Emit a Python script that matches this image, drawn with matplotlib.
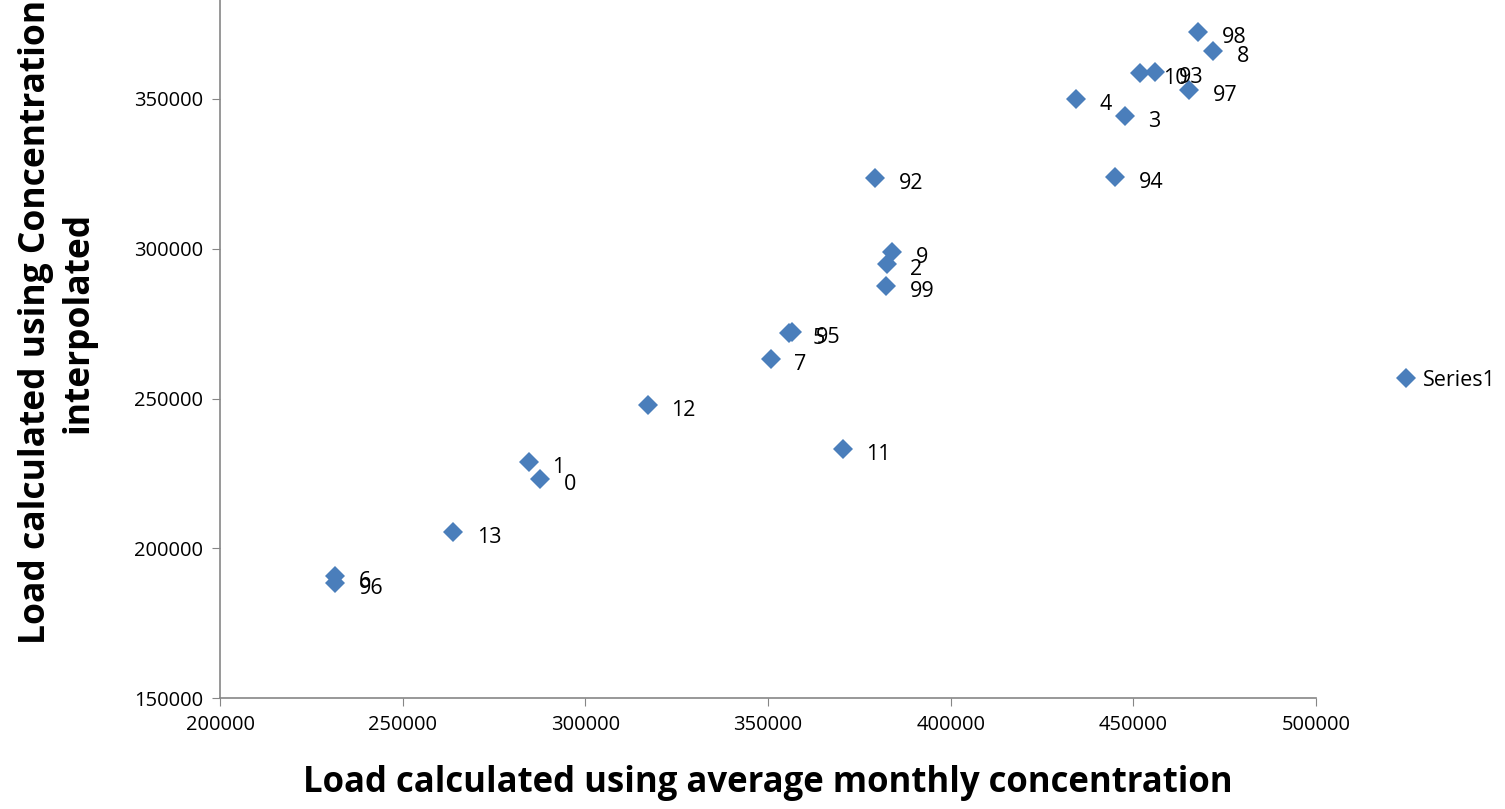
import matplotlib
matplotlib.use("Agg")
import matplotlib.pyplot as plt
from matplotlib.lines import Line2D

labels = ["98", "8", "10", "93", "97", "4", "3", "94", "92", "9", "2", "99",
          "5", "95", "7", "12", "11", "1", "0", "13", "6", "96"]
x_avg = [467650, 471760, 451780, 455890, 465190, 434260, 447670, 444940,
         379260, 383910, 382540, 382270, 355720, 356540, 350790, 317130,
         370500, 284560, 287580, 263770, 231470, 231470]
y_interp = [372370, 366030, 358680, 359010, 353010, 350000, 344330, 323960,
            323630, 298920, 294910, 287560, 271870, 272200, 263190, 247830,
            233140, 228800, 223120, 205430, 190730, 188400]
series_name = "Series1"
xlabel = "Load calculated using average monthly concentration"
ylabel = "Load calculated using Concentration\ninterpolated"

FONT = ["Open Sans", "DejaVu Sans"]
plt.rcParams["font.family"] = FONT

W, H = 1505, 809
fig = plt.figure(figsize=(W / 100, H / 100), dpi=100)
ax = fig.add_axes([220 / W, (H - 698) / H, (1316 - 220) / W, 698 / H])

color = "#4A7EBB"
ax.plot(x_avg, y_interp, linestyle="none", marker="D", markersize=10,
        color=color, markeredgewidth=0)
for lab, xv, yv in zip(labels, x_avg, y_interp):
    ax.annotate(lab, (xv, yv), xytext=(17, -4), textcoords="offset points",
                ha="left", va="center", fontsize=15.5, color="black")

ax.set_xlim(200000, 500000)
ax.set_ylim(150000, 150000 + 698 / 149.75 * 50000)
ax.set_xticks(range(200000, 500001, 50000))
ax.set_yticks(range(150000, 350001, 50000))
ax.tick_params(axis="both", direction="out", length=6, color="#868686",
               labelsize=14.5, pad=6)
for s in ["top", "right"]:
    ax.spines[s].set_visible(False)
for s in ["left", "bottom"]:
    ax.spines[s].set_color("#868686")
    ax.spines[s].set_linewidth(1.2)

fig.text(768 / W, 1 - 783 / H, xlabel, ha="center", va="center",
         fontsize=25, fontweight="bold")
fig.text(57 / W, 1 - 322 / H, ylabel, ha="center", va="center",
         fontsize=25.5, fontweight="bold", rotation=90, multialignment="center",
         linespacing=1.25)

handle = Line2D([], [], linestyle="none", marker="D", markersize=10,
                color=color, markeredgewidth=0)
fig.legend([handle], [series_name], loc="center left",
           bbox_to_anchor=(1384 / W, 1 - 380 / H), frameon=False,
           fontsize=15.5, handletextpad=0.3, handlelength=1.0, borderpad=0)

fig.savefig("out.png", dpi=100)
